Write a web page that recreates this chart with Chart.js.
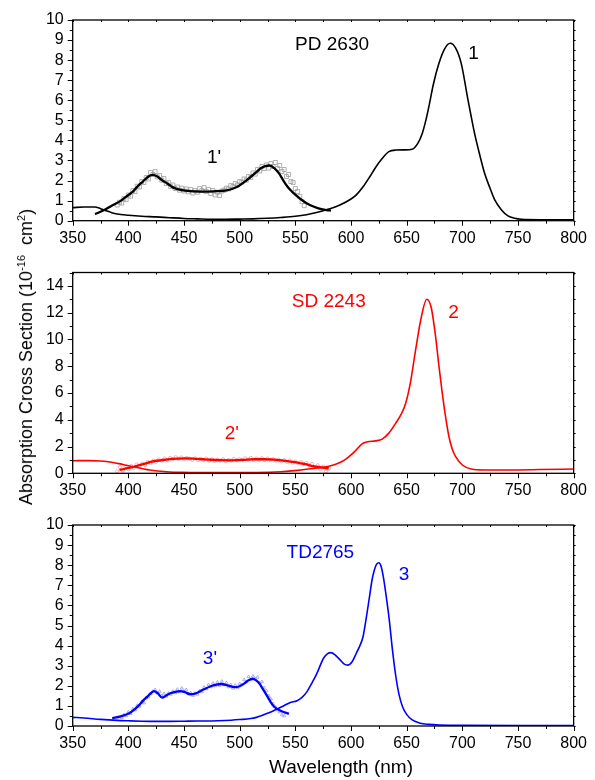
<!DOCTYPE html>
<html>
<head>
<meta charset="utf-8">
<script src="https://cdn.jsdelivr.net/npm/chart.js@4.4.1/dist/chart.umd.min.js"></script>
<style>
  body { margin: 0; background: #fff; }
  #page { position: relative; width: 595px; height: 780px; overflow: hidden; font-family: "Liberation Sans", Arial, sans-serif; }
  .panel { position: absolute; left: 0; width: 595px; }
  #yTitle { position: absolute; left: 26px; top: 357px; transform: translate(-50%, -50%) rotate(-90deg);
            white-space: nowrap; font-size: 18px; line-height: 20px; color: #000; }
  #yTitle sup { font-size: 11px; line-height: 0; }
  #xTitle { position: absolute; left: 341px; top: 767px; transform: translate(-50%, -50%);
            white-space: nowrap; font-size: 19px; color: #000; }
</style>
</head>
<body>
<div id="page">
  <div class="panel" style="top:0;height:250px"><canvas id="pd2630"></canvas></div>
  <div class="panel" style="top:250px;height:250px"><canvas id="sd2243"></canvas></div>
  <div class="panel" style="top:500px;height:280px"><canvas id="td2765"></canvas></div>
  <div id="yTitle">Absorption Cross Section (10<sup>-16</sup>&nbsp; cm<sup>2</sup>)</div>
  <div id="xTitle">Wavelength (nm)</div>
</div>
<script>
// wavelength axis (nm)
const wlMin = 350, wlMax = 800, wlMajor = 50, wlMinor = 25;

// PD 2630: absorption (1), fit of the short-wave band (1') and measured points
const pdAbs = [[350,0.65],[360,0.68],[370,0.68],[375,0.6],[380,0.5],[385,0.4],[390,0.33],[400,0.27],[412,0.22],
  [425,0.19],[437,0.15],[450,0.11],[462,0.09],[475,0.07],[487,0.07],[500,0.08],[512,0.09],[525,0.12],[537,0.16],
  [550,0.22],[560,0.3],[570,0.42],[580,0.58],[590,0.78],[600,1.08],[605,1.3],[611,1.7],[617,2.2],[622.5,2.69],
  [628,3.1],[634,3.44],[640,3.52],[648,3.53],[655,3.56],[660,3.85],[664,4.35],[667,4.95],[670,5.7],[674,6.8],
  [679,7.84],[684,8.55],[689,8.84],[694,8.6],[699,7.84],[705,6.05],[711,4.35],[716,3.2],[720,2.36],[725,1.6],
  [729,1.05],[735,0.55],[741,0.24],[747,0.12],[753,0.07],[770,0.05],[800,0.05]];
const pdFit = [[370,0.33],[374,0.42],[380,0.58],[385,0.75],[392,0.95],[398,1.2],[404,1.45],[408,1.7],[413,1.95],
  [418,2.2],[422,2.28],[426,2.2],[430,2.03],[435,1.85],[440,1.66],[445,1.56],[451,1.5],[460,1.46],[469,1.45],
  [478,1.47],[487,1.5],[493,1.58],[498,1.69],[504,1.92],[510,2.19],[515,2.42],[519,2.61],[523,2.72],[527,2.75],
  [531,2.62],[535,2.38],[539,2.02],[543,1.69],[547,1.45],[552,1.2],[557,0.98],[563,0.78],[570,0.63],[578,0.53],[582,0.5]];
const pdPoints = [[390,0.78],[392,0.92],[394,0.88],[396,1.1],[398,1.05],[400,1.28],[402,1.22],[404,1.5],[406,1.45],
  [408,1.72],[410,1.68],[412,1.95],[414,1.9],[416,2.15],[418,2.08],[420,2.4],[422,2.3],[424,2.45],[426,2.18],
  [428,2.25],[430,2.02],[432,2.1],[434,1.85],[436,1.9],[438,1.7],[440,1.78],[442,1.6],[444,1.68],[446,1.52],
  [448,1.62],[450,1.48],[452,1.58],[454,1.44],[456,1.55],[458,1.38],[460,1.5],[462,1.42],[464,1.6],[466,1.5],
  [468,1.65],[470,1.45],[472,1.55],[474,1.36],[476,1.5],[478,1.28],[480,1.42],[482,1.25],[484,1.48],[486,1.52],
  [488,1.62],[490,1.58],[492,1.75],[494,1.7],[496,1.85],[498,1.78],[500,1.95],[502,1.92],[504,2.08],[506,2.02],
  [508,2.2],[510,2.15],[512,2.38],[514,2.32],[516,2.55],[518,2.48],[520,2.7],[522,2.6],[524,2.78],[526,2.62],
  [528,2.85],[530,2.7],[532,2.9],[534,2.6],[536,2.75],[538,2.45],[540,2.55],[542,2.2],[544,2.3],[546,1.95],
  [548,1.9],[550,1.6],[552,1.45],[554,1.2],[556,0.95],[558,0.75]];

// SD 2243 (2, 2')
const sdAbs = [[350,0.94],[365,0.95],[375,0.92],[385,0.83],[395,0.66],[404,0.49],[412,0.36],[419,0.25],[426,0.17],
  [434,0.12],[448,0.07],[463,0.05],[490,0.05],[515,0.06],[537,0.12],[552,0.22],[566,0.36],[581,0.54],[590,0.8],
  [596,1.1],[603,1.6],[610,2.2],[615,2.35],[622,2.42],[628,2.55],[634,3.0],[640,3.73],[645,4.4],[649,5.2],
  [653,6.6],[658,9.2],[663,11.6],[668,13.0],[672,12.4],[676,10.2],[679,8.0],[682,5.97],[685,4.2],[688,2.73],
  [691,1.8],[694,1.24],[700,0.62],[708,0.32],[720,0.25],[740,0.25],[770,0.28],[800,0.32]];
const sdFit = [[392,0.25],[400,0.4],[407,0.54],[414,0.7],[421,0.87],[430,0.98],[439,1.07],[451,1.12],[462,1.07],
  [472,1.02],[482,0.98],[492,0.97],[503,1.0],[513,1.05],[522,1.05],[531,1.02],[541,0.93],[552,0.8],[559,0.68],
  [566,0.54],[573,0.45],[580,0.37]];
const sdPoints = [[390,0.15],[392.5,0.45],[395,0.2],[397.5,0.5],[400,0.3],[402.5,0.55],[405,0.4],[407.5,0.65],
  [410,0.5],[412.5,0.72],[415,0.62],[417.5,0.85],[420,0.78],[422.5,0.95],[425,0.85],[427.5,1.02],[430,0.95],
  [432.5,1.1],[435,1.0],[437.5,1.15],[440,1.05],[442.5,1.2],[445,1.08],[447.5,1.18],[450,1.05],[452.5,1.15],
  [455,1.1],[457.5,1.0],[460,1.12],[462.5,0.98],[465,1.08],[467.5,1.0],[470,1.1],[472.5,0.95],[475,1.05],
  [477.5,0.92],[480,1.02],[482.5,0.95],[485,1.05],[487.5,0.9],[490,1.0],[492.5,0.95],[495,1.08],[497.5,0.98],
  [500,1.05],[502.5,1.0],[505,1.12],[507.5,1.02],[510,1.15],[512.5,1.0],[515,1.1],[517.5,1.02],[520,1.12],
  [522.5,0.98],[525,1.1],[527.5,1.0],[530,1.05],[532.5,0.95],[535,1.02],[537.5,0.9],[540,0.98],[542.5,0.85],
  [545,0.95],[547.5,0.8],[550,0.88],[552.5,0.75],[555,0.82],[557.5,0.7],[560,0.78],[562.5,0.6],[565,0.7],
  [567.5,0.45],[570,0.6],[572.5,0.3],[575,0.5],[577.5,0.15],[580,0.35]];

// TD2765 (3, 3')
const tdAbs = [[350,0.43],[360,0.4],[375,0.33],[390,0.28],[400,0.26],[412,0.24],[425,0.23],[437,0.23],[450,0.24],
  [462,0.25],[475,0.25],[487,0.27],[500,0.32],[510,0.37],[515,0.43],[520,0.52],[525,0.63],[530,0.75],[535,0.88],
  [540,1.02],[545,1.16],[551.6,1.26],[556,1.42],[560.5,1.71],[565,2.15],[569.4,2.62],[575.3,3.37],[579,3.6],
  [582,3.65],[586,3.52],[590,3.3],[594,3.08],[597,3.03],[601,3.2],[604.8,3.62],[608,4.0],[610.8,4.44],[613.5,5.3],
  [616.6,6.43],[619,7.3],[621,7.76],[623,8.05],[625,8.12],[627,7.95],[629,7.43],[631.5,6.5],[634.4,5.27],[637,3.9],
  [640.3,2.45],[643,1.6],[646.3,0.96],[650,0.58],[655,0.3],[662,0.14],[670,0.08],[680,0.05],[700,0.03],[750,0.02],[800,0.02]];
const tdFit = [[385.5,0.38],[393,0.48],[400.8,0.63],[405,0.8],[409.7,1.04],[413,1.25],[417,1.46],[420,1.62],[423,1.74],
  [426.5,1.62],[430.4,1.41],[434,1.52],[437.8,1.63],[442,1.7],[446.7,1.74],[451,1.68],[455.5,1.58],[459,1.6],
  [462.9,1.68],[468,1.83],[474.7,1.99],[479,2.06],[483.6,2.09],[489,2.02],[495.5,1.93],[500,1.98],[504.3,2.12],
  [508,2.28],[511.7,2.35],[514.5,2.28],[517.6,2.12],[521,1.82],[525,1.46],[528,1.18],[531,0.96],[536.8,0.76],[544.2,0.6]];
const tdPoints = [[394,0.42],[396,0.55],[398,0.5],[400,0.7],[402,0.62],[404,0.85],[406,0.8],[408,1.02],[410,0.98],
  [412,1.2],[414,1.15],[416,1.4],[418,1.45],[420,1.6],[422,1.72],[424,1.8],[426,1.65],[428,1.72],[430,1.5],[432,1.6],
  [434,1.48],[436,1.62],[438,1.58],[440,1.72],[442,1.65],[444,1.82],[446,1.7],[448,1.88],[450,1.72],[452,1.8],
  [454,1.6],[456,1.65],[458,1.52],[460,1.62],[462,1.58],[464,1.75],[466,1.7],[468,1.92],[470,1.85],[472,2.05],
  [474,1.95],[476,2.12],[478,2.0],[480,2.18],[482,2.02],[484,2.22],[486,2.05],[488,2.15],[490,1.95],[492,2.05],
  [494,1.88],[496,2.02],[498,1.9],[500,2.1],[502,2.05],[504,2.3],[506,2.2],[508,2.45],[510,2.3],[512,2.48],
  [514,2.35],[516,2.42],[518,2.15],[520,2.2],[522,1.9],[524,1.75],[526,1.5],[528,1.35],[530,1.1],[532,0.95],
  [534,0.8],[536,0.7],[538,0.55],[540,0.5]];

// text placed in data coordinates: [text, wavelength, value]
const pdLabels = [["PD 2630", 583, 8.75], ["1", 710, 8.3], ["1'", 477, 3.12]];
const sdLabels = [["SD 2243", 580, 12.8], ["2", 692, 12.0], ["2'", 493, 2.93]];
const tdLabels = [["TD2765", 572.5, 8.63], ["3", 647.7, 7.5], ["3'", 473.3, 3.33]];

const FONT = '"Liberation Sans", Arial, sans-serif';
const xy = (pairs) => pairs.map(([x, y]) => ({ x, y }));

// box around the plot with outward major/minor ticks on left/bottom, short mirrored ticks on top/right
function frameTicks(yMajor, yMinor) {
  return {
    id: "frameTicks",
    afterDatasetsDraw(chart) {
      const { ctx, chartArea: a, scales: { x, y } } = chart;
      ctx.save();
      ctx.strokeStyle = "#000";
      ctx.lineWidth = 1.3;
      ctx.strokeRect(a.left, a.top, a.right - a.left, a.bottom - a.top);
      ctx.lineWidth = 1;
      ctx.beginPath();
      const nx = Math.round((wlMax - wlMin) / wlMinor);
      for (let i = 0; i <= nx; i++) {
        const v = wlMin + i * wlMinor;
        const px = Math.round(x.getPixelForValue(v)) + 0.5;
        const len = (v - wlMin) % wlMajor === 0 ? 5 : 3;
        ctx.moveTo(px, a.bottom); ctx.lineTo(px, a.bottom + len);
        ctx.moveTo(px, a.top); ctx.lineTo(px, a.top + 2);
      }
      const ny = Math.round((y.max - y.min) / yMinor);
      for (let i = 0; i <= ny; i++) {
        const v = y.min + i * yMinor;
        const py = Math.round(y.getPixelForValue(v)) + 0.5;
        const len = Math.abs(v / yMajor - Math.round(v / yMajor)) < 1e-6 ? 5 : 3;
        ctx.moveTo(a.left, py); ctx.lineTo(a.left - len, py);
        ctx.moveTo(a.right, py); ctx.lineTo(a.right + 2, py);
      }
      ctx.stroke();
      ctx.restore();
    },
  };
}

function panelLabels(items, color) {
  return {
    id: "panelLabels",
    afterDatasetsDraw(chart) {
      const { ctx, scales: { x, y } } = chart;
      ctx.save();
      ctx.font = "19px " + FONT;
      ctx.fillStyle = color;
      ctx.textAlign = "center";
      ctx.textBaseline = "middle";
      items.forEach(([t, vx, vy]) => ctx.fillText(t, x.getPixelForValue(vx), y.getPixelForValue(vy)));
      ctx.restore();
    },
  };
}

function makePanel(id, s) {
  const el = document.getElementById(id);
  return new Chart(el.getContext("2d"), {
    type: "line",
    data: {
      datasets: [
        {
          data: xy(s.points), showLine: false, order: 3,
          pointStyle: s.pointStyle, pointRadius: s.pointRadius, pointBorderWidth: 0.8,
          pointBorderColor: s.pointColor, pointBackgroundColor: "transparent",
        },
        {
          data: xy(s.abs), order: 2, borderColor: s.color, borderWidth: 1.6,
          pointRadius: 0, cubicInterpolationMode: "monotone",
        },
        {
          data: xy(s.fit), order: 1, borderColor: s.color, borderWidth: 2.3,
          pointRadius: 0, cubicInterpolationMode: "monotone",
        },
      ],
    },
    options: {
      responsive: true,
      maintainAspectRatio: false,
      animation: false,
      events: [],
      layout: { padding: { top: s.padTop, right: 15, left: 0, bottom: 0 } },
      plugins: { legend: { display: false }, tooltip: { enabled: false } },
      scales: {
        x: {
          type: "linear", min: wlMin, max: wlMax,
          afterFit: (sc) => { sc.height = s.xHeight; },
          ticks: { stepSize: wlMajor, autoSkip: false, maxRotation: 0, padding: 8, color: "#000", font: { family: FONT, size: 16 } },
          grid: { display: false, drawTicks: false },
          border: { display: false },
        },
        y: {
          min: 0, max: s.yMax,
          afterFit: (sc) => { sc.width = 72.7; },
          ticks: { stepSize: s.yMajor, autoSkip: false, includeBounds: false, padding: 9, color: "#000", font: { family: FONT, size: 16 } },
          grid: { display: false, drawTicks: false },
          border: { display: false },
        },
      },
    },
    plugins: [frameTicks(s.yMajor, s.yMinor), panelLabels(s.labels, s.color)],
  });
}

makePanel("pd2630", {
  abs: pdAbs, fit: pdFit, points: pdPoints, labels: pdLabels,
  color: "#000000", pointColor: "#9c9c9c", pointStyle: "rect", pointRadius: 2.8,
  yMax: 10, yMajor: 1, yMinor: 0.5, padTop: 20, xHeight: 29.3,
});
makePanel("sd2243", {
  abs: sdAbs, fit: sdFit, points: sdPoints, labels: sdLabels,
  color: "#ff0000", pointColor: "#f29a9a", pointStyle: "circle", pointRadius: 1.6,
  yMax: 15, yMajor: 2, yMinor: 1, padTop: 22.5, xHeight: 26.7,
});
makePanel("td2765", {
  abs: tdAbs, fit: tdFit, points: tdPoints, labels: tdLabels,
  color: "#0000ff", pointColor: "#9a9af2", pointStyle: "triangle", pointRadius: 1.8,
  yMax: 10, yMajor: 1, yMinor: 0.5, padTop: 25, xHeight: 54,
});
</script>
</body>
</html>
